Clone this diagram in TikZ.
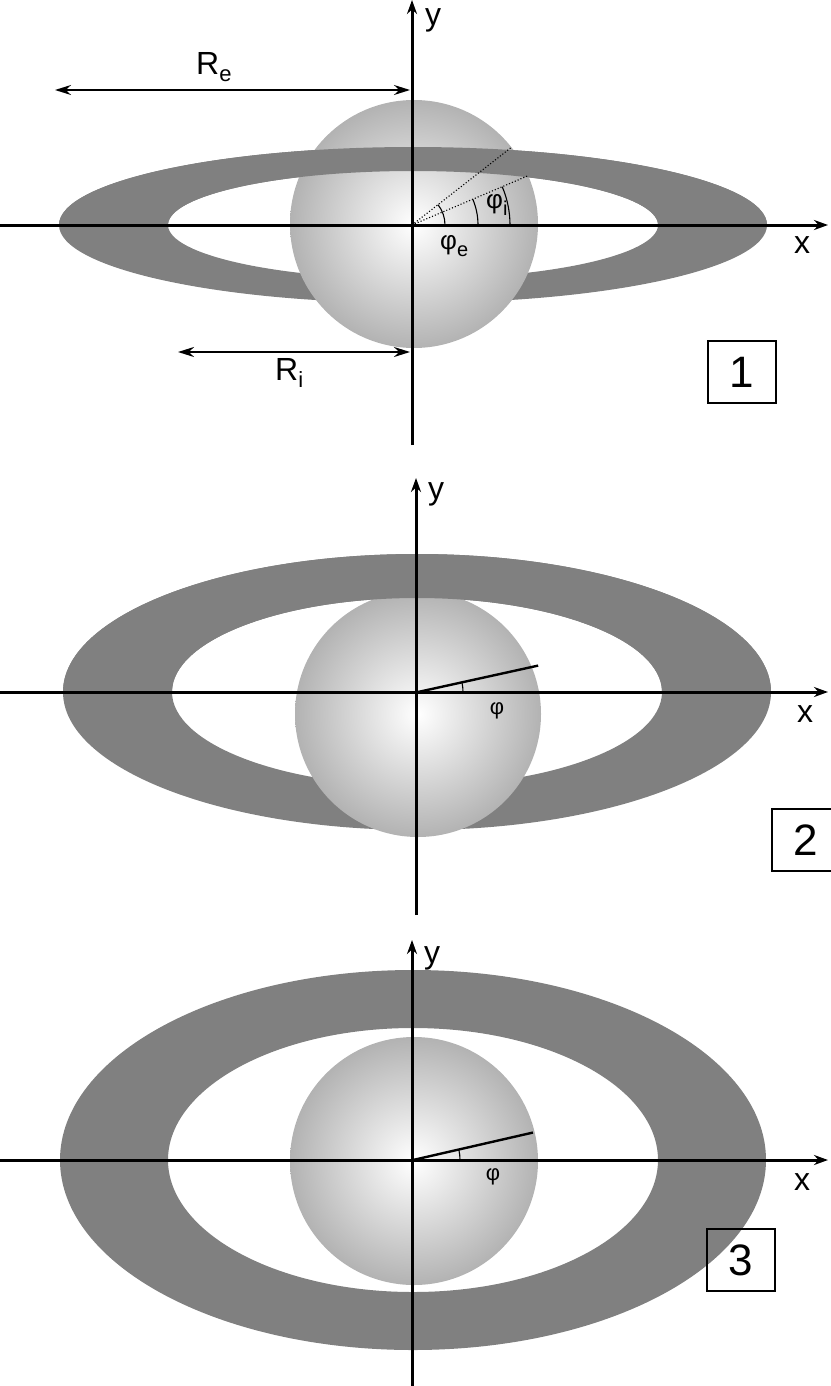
\documentclass[tikz,border=0pt]{standalone}
\usepackage{fontspec}
\setmainfont{Liberation Sans}
\usetikzlibrary{arrows.meta}
\begin{document}
\begin{tikzpicture}[x=1pt,y=-1pt,
 ringc/.style={fill=black!50},
 ax/.style={line width=3pt,-{Stealth[length=14pt,width=10pt]}},
 lab/.style={font=\fontsize{32}{32}\selectfont,inner sep=0pt},
 phil/.style={font=\fontsize{26}{26}\selectfont,inner sep=0pt},
 boxn/.style={draw,line width=1.8pt,minimum width=68pt,minimum height=62pt,font=\fontsize{44}{44}\selectfont},
 sph/.style={inner color=white,outer color=black!30},
 thin/.style={line width=1.1pt},
 dim/.style={line width=2.2pt,{Stealth[length=16pt,width=10pt]}-{Stealth[length=16pt,width=10pt]}}]
\useasboundingbox (0,0) rectangle (830,1386);
% ---------- panel 1
\coordinate (c1) at (413,225);
\fill[ringc,even odd rule] (c1) ellipse [x radius=354,y radius=78] (c1) ellipse [x radius=245,y radius=54];
\shade[sph] (414,224) circle[radius=124];
\begin{scope}
\clip (0,0) rectangle (830,225);
\fill[ringc,even odd rule] (c1) ellipse [x radius=354,y radius=78] (c1) ellipse [x radius=245,y radius=54];
\end{scope}
\draw[ax] (0,225) -- (828,225);
\draw[ax] (412,445) -- (412,0);
\node[lab] (x1) at (802,245) {x};
\node[lab] (y1) at (433,20) {y};
\coordinate (o1) at (412,225);
\draw[thin,dotted] (o1) -- ++(-23:125) coordinate (pi);
\draw[thin,dotted] (o1) -- ++(-38:127) coordinate (pe);
\draw[thin] (o1) ++(0:33) arc (0:-38:33);
\draw[thin] (o1) ++(0:66) arc (0:-23:66);
\draw[thin] (o1) ++(0:98) arc (0:-23:98);
\node[phil,anchor=west] (phie) at (440,246) {φ\raisebox{-7pt}{\fontsize{20}{20}\selectfont e}};
\node[phil,anchor=west] (phii) at (486,205) {φ\raisebox{-7pt}{\fontsize{20}{20}\selectfont i}};
\coordinate (re1) at (55,90); \coordinate (re2) at (410,90);
\draw[dim,line width=1.6pt] (re1) -- (re2);
\node[lab,anchor=west] (Re) at (196,67) {R\raisebox{-7pt}{\fontsize{22}{22}\selectfont e}};
\coordinate (ri1) at (178,352); \coordinate (ri2) at (410,352);
\draw[dim] (ri1) -- (ri2);
\node[lab,anchor=west] (Ri) at (275,373) {R\raisebox{-7pt}{\fontsize{22}{22}\selectfont i}};
\node[boxn] (b1) at (742,372) {1};
% ---------- panel 2
\coordinate (c2) at (417,692);
\fill[ringc,even odd rule] (c2) ellipse [x radius=354,y radius=138] (c2) ellipse [x radius=245,y radius=94];
\shade[sph] (418,714) circle[radius=123];
\begin{scope}
\clip (0,0) rectangle (830,692);
\fill[ringc,even odd rule] (c2) ellipse [x radius=354,y radius=138] (c2) ellipse [x radius=245,y radius=94];
\end{scope}
\draw[ax] (0,692) -- (828,692);
\draw[ax] (416,915) -- (416,478);
\node[lab] (x2) at (805,714) {x};
\node[lab] (y2) at (436,494) {y};
\coordinate (o2) at (418,692);
\draw[line width=2.4pt] (o2) -- ++(-12.4:123) coordinate (p2);
\draw[thin] (o2) ++(0:45) arc (0:-12.4:45);
\node[phil,font=\fontsize{22}{22}\selectfont] (phi2) at (497,711) {φ};
\node[boxn] (b2) at (806,840) {2};
% ---------- panel 3
\coordinate (c3) at (413,1160);
\fill[ringc,even odd rule] (c3) ellipse [x radius=353,y radius=190] (c3) ellipse [x radius=245,y radius=132];
\shade[sph] (414,1161) circle[radius=124];
\draw[ax] (0,1160) -- (828,1160);
\draw[ax] (412,1386) -- (412,940);
\node[lab] (x3) at (802,1182) {x};
\node[lab] (y3) at (432,958) {y};
\coordinate (o3) at (413,1160);
\draw[line width=2.4pt] (o3) -- ++(-12.9:123) coordinate (p3);
\draw[thin] (o3) ++(0:47) arc (0:-12.9:47);
\node[phil,font=\fontsize{22}{22}\selectfont] (phi3) at (493,1177) {φ};
\node[boxn] (b3) at (741,1260) {3};
\end{tikzpicture}
\end{document}
